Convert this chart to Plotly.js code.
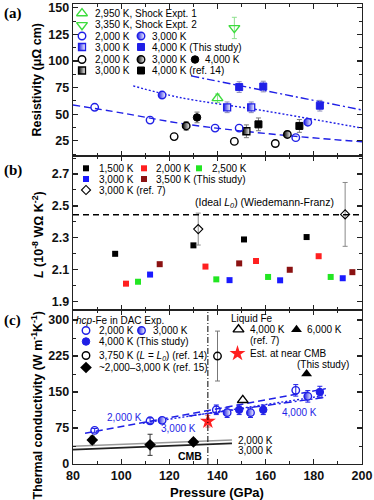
<!DOCTYPE html>
<html><head><meta charset="utf-8">
<script src="https://cdn.plot.ly/plotly-3.0.1.min.js"></script>
<style>html,body{margin:0;padding:0;background:#fff}#chart{width:374px;height:500px}</style>
</head><body><div id="chart"></div>
<script>
// ================= DATA =================
// (a) Resistivity (μΩ cm) vs pressure (GPa)
const shock1P = [140], shock1R = [65], shock1E = [4];
const shock2P = [147], shock2R = [131], shock2E = [10];
const rB2000P = [89, 112, 139, 149, 172.5], rB2000R = [56.5, 44.5, 37, 37, 28];
const rB3000cP = [117, 177.5], rB3000cR = [68, 42.5];
const rB3000sP = [144, 154], rB3000sR = [56.5, 56.5], rB3000sE = [5, 5];
const rB4000sP = [149, 159, 182.5], rB4000sR = [75.5, 76, 58], rB4000sE = [5, 5, 5];
const rK2000P = [122, 147, 164], rK2000R = [29, 24.5, 22.5];
const rK3000cP = [127, 169], rK3000cR = [39, 31], rK3000cE = [4, 3];
const rK4000cP = [131.5], rK4000cR = [47], rK4000cE = [5];
const rK3000sP = [152], rK3000sR = [34], rK3000sE = [6];
const rK4000sP = [157, 174], rK4000sR = [40.5, 39], rK4000sE = [6, 6];
const fitR2000P = [80, 100, 126, 160, 200], fitR2000 = [58.7, 51.3, 41, 31.9, 24.1];
const fitR3000P = [105, 124.4, 160, 200], fitR3000 = [76.6, 65.7, 53, 37];
const fitR4000P = [129, 160, 200], fitR4000 = [86, 72, 54];

// (b) Lorenz number (10^-8 WΩK^-2)
const L1500P = [97.5, 130, 151, 177], L1500 = [2.20, 2.253, 2.29, 2.305];
const L2000P = [102, 135, 156, 182], L2000 = [2.013, 2.12, 2.155, 2.185];
const L2500P = [107, 139.5, 161, 187], L2500 = [2.025, 2.04, 2.055, 2.055];
const L3000P = [112, 145, 166, 192], L3000 = [2.07, 2.035, 2.034, 2.047];
const L3500P = [116, 149, 170, 196], L3500 = [2.135, 2.14, 2.10, 2.085];
const Lref7P = [132, 193], Lref7 = [2.355, 2.447], Lref7E = [0.1, 0.2];
const L0 = 2.445;

// (c) Thermal conductivity (W m^-1 K^-1)
const k2000P = [89, 112, 139.5, 172.5], k2000 = [70, 90, 113, 153.5], k2000E = [4, 6, 10, 12];
const k3000P = [117, 144, 153.7, 177.5], k3000 = [91, 107, 107, 141], k3000E = [6, 10, 10, 12];
const k4000P = [149, 159, 182.5], k4000 = [113, 113, 150], k4000E = [10, 10, 12];
const kRef14P = [140], kRef14 = [225], kRef14E = [52];
const kRef15P = [88, 112, 130], kRef15 = [50, 40, 46], kRef15E = [8, 22, 6];
const kLiq4000P = [150.5], kLiq4000 = [133];
const kLiq6000P = [177], kLiq6000 = [188];
const kCmbP = [136], kCmb = [89], kCmbE = [12];
const cmbPressure = 136;
const fitK2000P = [85, 185], fitK2000 = [64, 157];
const fitK3000P = [109, 185], fitK3000 = [85, 143];
const fitK4000P = [128, 185], fitK4000 = [100, 139];
const ref15Line2000P = [80, 146], ref15Line2000 = [37, 50];
const ref15Line3000P = [80, 146], ref15Line3000 = [30, 43];

// ================= STYLE =================
const F = 'Liberation Sans, Arial, sans-serif';
const BLUE = '#1f1fe6', GREEN = '#3cdc3c', RED = '#ff2020', DRED = '#8b1212', BLK = '#000';
const M = {
  openC: c => ({symbol: 'circle-open', size: 7.5, color: c, line: {width: 1.4, color: c}}),
  halfC: c => ({symbol: 'circle', size: 7.5, color: c, gradient: {type: 'horizontal', color: 'white'}, line: {width: 1.4, color: c}}),
  fillC: c => ({symbol: 'circle', size: 7.5, color: c, line: {width: 1, color: c}}),
  halfS: c => ({symbol: 'square', size: 7, color: c, gradient: {type: 'horizontal', color: 'white'}, line: {width: 1.3, color: c}}),
  fillS: c => ({symbol: 'square', size: 7, color: c, line: {width: 1, color: c}}),
  sq: c => ({symbol: 'square', size: 6, color: c, line: {width: 0}}),
  triUpO: c => ({symbol: 'triangle-up-open', size: 9.5, color: c, line: {width: 1.4, color: c}}),
  triDnO: c => ({symbol: 'triangle-down-open', size: 9.5, color: c, line: {width: 1.4, color: c}}),
  triUp: c => ({symbol: 'triangle-up', size: 9.5, color: c}),
  diaO: c => ({symbol: 'diamond-open', size: 7, color: c, line: {width: 1.1, color: c}}),
  dia: c => ({symbol: 'diamond', size: 9, color: c}),
  star: c => ({symbol: 'star', size: 12, color: c, line: {width: 0}})
};

const traces = [];
const AX = {a: ['x3', 'y3'], b: ['x2', 'y2'], c: ['x', 'y'], k: ['x4', 'y4']};
function pts(x, y, marker, ax, err, errColor) {
  const t = {type: 'scatter', mode: 'markers', x: x, y: y, marker: marker, xaxis: ax[0], yaxis: ax[1], showlegend: false, hoverinfo: 'skip'};
  if (err) t.error_y = {type: 'data', array: err, visible: true, color: errColor || '#777', thickness: 1, width: 2.5};
  traces.push(t);
}
function line(x, y, color, dash, width, ax) {
  traces.push({type: 'scatter', mode: 'lines', x: x, y: y, line: {color: color, dash: dash, width: width, shape: 'spline'}, xaxis: ax[0], yaxis: ax[1], showlegend: false, hoverinfo: 'skip'});
}

// ---- (a) ----
line(fitR2000P, fitR2000, BLUE, '7px,4px', 1.4, AX.a);
line(fitR3000P, fitR3000, BLUE, '2px,2px', 1.4, AX.a);
line(fitR4000P, fitR4000, BLUE, '8px,3px,2px,3px', 1.4, AX.a);
const EB = '#8a8ab8', EK = '#777', EG = '#8ee08e';
pts(shock1P, shock1R, M.triUpO(GREEN), AX.a, shock1E, EG);
pts(shock2P, shock2R, M.triDnO(GREEN), AX.a, shock2E, EG);
pts(rK2000P, rK2000R, M.openC(BLK), AX.a);
pts(rK3000cP, rK3000cR, M.halfC(BLK), AX.a, rK3000cE, EK);
pts(rK4000cP, rK4000cR, M.fillC(BLK), AX.a, rK4000cE, EK);
pts(rK3000sP, rK3000sR, M.halfS(BLK), AX.a, rK3000sE, EK);
pts(rK4000sP, rK4000sR, M.fillS(BLK), AX.a, rK4000sE, EK);
pts(rB2000P, rB2000R, M.openC(BLUE), AX.a);
pts(rB3000cP, rB3000cR, M.halfC(BLUE), AX.a);
pts(rB3000sP, rB3000sR, M.halfS(BLUE), AX.a, rB3000sE, EB);
pts(rB4000sP, rB4000sR, M.fillS(BLUE), AX.a, rB4000sE, EB);

// ---- (b) ----
pts(L1500P, L1500, M.sq(BLK), AX.b);
pts(L2000P, L2000, M.sq(RED), AX.b);
pts(L2500P, L2500, M.sq('#22e622'), AX.b);
pts(L3000P, L3000, M.sq('#1a1aff'), AX.b);
pts(L3500P, L3500, M.sq(DRED), AX.b);
pts(Lref7P, Lref7, M.diaO(BLK), AX.b, Lref7E, '#888');

// ---- (c) ----
line(ref15Line2000P, ref15Line2000, '#999', 'solid', 1.6, AX.c);
line(ref15Line3000P, ref15Line3000, '#222', 'solid', 1.6, AX.c);
line(fitK2000P, fitK2000, BLUE, '7px,4px', 1.4, AX.c);
line(fitK3000P, fitK3000, BLUE, '2px,2px', 1.4, AX.c);
line(fitK4000P, fitK4000, BLUE, '8px,3px,2px,3px', 1.4, AX.c);
pts(kRef15P, kRef15, M.dia(BLK), AX.c, kRef15E, '#333');
pts(kRef14P, kRef14, M.openC(BLK), AX.c, kRef14E, '#777');
pts(kLiq4000P, kLiq4000, M.triUpO(BLK), AX.c);
pts(kLiq6000P, kLiq6000, M.triUp(BLK), AX.c);
pts(k2000P, k2000, M.openC(BLUE), AX.c, k2000E, BLUE);
pts(k3000P, k3000, M.halfC(BLUE), AX.c, k3000E, BLUE);
pts(k4000P, k4000, M.fillC(BLUE), AX.c, k4000E, BLUE);
pts(kCmbP, kCmb, M.star(RED), AX.c, kCmbE, '#ff7070');

// ================= LEGENDS / LABELS (pixel layout, converted to paper) =================
const PL = 73, PR = 362, PT = 4, PB = 464;
const annotations = [];
function txt(px, py, text, o) {
  o = o || {};
  annotations.push(Object.assign({x: (px - PL) / (PR - PL), y: (PB - py) / (PB - PT), xref: 'paper', yref: 'paper',
    text: text, showarrow: false, xanchor: 'left', yanchor: 'middle',
    font: {family: F, size: 10, color: BLK}}, o));
}
function key(x, y, marker, label, tx) {
  pts([x], [y], marker, AX.k);
  if (label) txt(tx, y, label);
}
// (a) legend
const legA = {c1: 82, t1: 92.5, c2: 141, t2: 150, c3: 195, t3: 203, rows: [13.3, 25, 36, 47, 59.5, 70.5]};
const R = legA.rows;
key(legA.c1, R[0], M.triUpO(GREEN), '2,950 K, Shock Expt. 1', legA.t1);
key(legA.c1, R[1], M.triDnO(GREEN), '3,350 K, Shock Expt. 2', legA.t1);
key(legA.c1, R[2], M.openC(BLUE), '2,000 K', legA.t1);
key(legA.c2, R[2], M.halfC(BLUE), '3,000 K', legA.t2);
key(legA.c1, R[3], M.halfS(BLUE), '3,000 K', legA.t1);
key(legA.c2, R[3], M.fillS(BLUE), '4,000 K (This study)', legA.t2);
key(legA.c1, R[4], M.openC(BLK), '2,000 K', legA.t1);
key(legA.c2, R[4], M.halfC(BLK), '3,000 K', legA.t2);
key(legA.c3, R[4], M.fillC(BLK), '4,000 K', legA.t3);
key(legA.c1, R[5], M.halfS(BLK), '3,000 K', legA.t1);
key(legA.c2, R[5], M.fillS(BLK), '4,000 K (ref. 14)', legA.t2);
// (b) legend
const legB = {c1: 86, t1: 97, c2: 144, t2: 154, c3: 199, t3: 210, rows: [168.3, 179, 190]};
key(legB.c1, legB.rows[0], M.sq(BLK), '1,500 K', legB.t1);
key(legB.c2, legB.rows[0], M.sq(RED), '2,000 K', legB.t2);
key(legB.c3, legB.rows[0], M.sq('#22e622'), '2,500 K', legB.t3);
key(legB.c1, legB.rows[1], M.sq('#1a1aff'), '3,000 K', legB.t1);
key(legB.c2, legB.rows[1], M.sq(DRED), '3,500 K (This study)', legB.t2);
key(legB.c1, legB.rows[2], M.diaO(BLK), '3,000 K (ref. 7)', legB.t1);
// (c) legend
const legC = {c1: 86, t1: 96.5, c2: 141.5, t2: 151, rows: [330.5, 341.5, 355.5, 367.5]};
txt(74, 320, '<i>hcp</i>-Fe in DAC Exp.');
key(legC.c1, legC.rows[0], M.openC(BLUE), '2,000 K', legC.t1);
key(legC.c2, legC.rows[0], M.halfC(BLUE), '3,000 K', legC.t2);
key(legC.c1, legC.rows[1], M.fillC(BLUE), '4,000 K (This study)', legC.t1);
key(legC.c1, legC.rows[2], M.openC(BLK), '3,750 K (<i>L</i> = <i>L<sub>0</sub></i>) (ref. 14)', legC.t1);
key(legC.c1, legC.rows[3], M.dia(BLK), '~2,000–3,000 K (ref. 15)', legC.t1);
txt(229, 318, 'Liquid Fe');
key(238.5, 329.5, M.triUpO(BLK), '4,000 K', 248);
key(296.5, 329.5, M.triUp(BLK), '6,000 K', 305);
txt(248, 340, '(ref. 7)');
key(237.5, 353.5, M.star(RED), 'Est. at near CMB', 248);
txt(295, 364.5, '(This study)');

// panel labels and axis titles
const serif = {family: 'Liberation Serif, Times New Roman, serif', size: 15, color: BLK, weight: 700};
txt(12.5, 13, '(a)', {xanchor: 'center', font: serif});
txt(12.5, 170, '(b)', {xanchor: 'center', font: serif});
txt(12.5, 320, '(c)', {xanchor: 'center', font: serif});
const tfont = {family: F, size: 12.5, color: BLK, weight: 700};
txt(36.5, 80, 'Resistivity (μΩ cm)', {xanchor: 'center', textangle: -90, font: tfont});
txt(38, 235, '<i>L</i> (10<sup>-8</sup> WΩ K<sup>-2</sup>)', {xanchor: 'center', textangle: -90, font: tfont});
txt(36.5, 405, 'Thermal conductivity (W m<sup>-1</sup>K<sup>-1</sup>)', {xanchor: 'center', textangle: -90, font: tfont});
txt(217, 492, 'Pressure (GPa)', {xanchor: 'center', font: {family: F, size: 13, color: BLK, weight: 700}});

// in-plot labels (data coords)
function dtxt(x, y, xr, yr, text, o) {
  annotations.push(Object.assign({x: x, y: y, xref: xr, yref: yr, text: text, showarrow: false,
    xanchor: 'center', yanchor: 'middle', font: {family: F, size: 10, color: BLK}}, o || {}));
}
dtxt(159.7, 2.52, 'x2', 'y2', '(Ideal <i>L<sub>0</sub></i>) (Wiedemann-Franz)', {font: {family: F, size: 10.5, color: BLK}});
dtxt(101.2, 97.6, 'x', 'y', '2,000 K', {font: {family: F, size: 10, color: BLUE}});
dtxt(123.8, 73, 'x', 'y', '3,000 K', {font: {family: F, size: 10, color: BLUE}});
dtxt(174.2, 108, 'x', 'y', '4,000 K', {font: {family: F, size: 10, color: BLUE}});
dtxt(147.6, 49.4, 'x', 'y', '2,000 K', {xanchor: 'left'});
dtxt(147.6, 28, 'x', 'y', '3,000 K', {xanchor: 'left'});
dtxt(134.6, 17.4, 'x', 'y', 'CMB', {xanchor: 'right', font: {family: F, size: 10.5, color: BLK, weight: 700}});

// ================= LAYOUT =================
const tickF = {family: F, size: 12.5, color: '#111', weight: 700};
const base = {showline: true, linecolor: '#222', linewidth: 1.3, mirror: 'ticks', ticks: 'inside', ticklen: 5,
  tickwidth: 1.2, tickcolor: '#222', showgrid: false, zeroline: false, tickfont: tickF, fixedrange: true,
  ticklabeloverflow: 'allow'};
const minor = d => ({dtick: d, ticks: 'inside', ticklen: 3, tickwidth: 1, tickcolor: '#222', showgrid: false});
const xr = [80, 200];
const layout = {
  width: 374, height: 500,
  margin: {l: PL, r: 374 - PR, t: PT, b: 500 - PB},
  paper_bgcolor: 'white', plot_bgcolor: 'rgba(0,0,0,0)',
  showlegend: false,
  xaxis: Object.assign({}, base, {domain: [0, 1], anchor: 'y', range: xr, tick0: 80, dtick: 20, minor: minor(10)}),
  xaxis2: Object.assign({}, base, {domain: [0, 1], anchor: 'y2', range: xr, tick0: 80, dtick: 20, minor: minor(10), showticklabels: false}),
  xaxis3: Object.assign({}, base, {domain: [0, 1], anchor: 'y3', range: xr, tick0: 80, dtick: 20, minor: minor(10), showticklabels: false}),
  yaxis: Object.assign({}, base, {domain: [0, 0.3348], anchor: 'x', range: [0, 321], tick0: 0, dtick: 75, minor: minor(37.5)}),
  yaxis2: Object.assign({}, base, {domain: [0.3348, 0.6696], anchor: 'x2', range: [1.848, 2.813], tick0: 1.9, dtick: 0.2, minor: minor(0.1)}),
  yaxis3: Object.assign({}, base, {domain: [0.6696, 1], anchor: 'x3', range: [10.8, 153.5], tick0: 0, dtick: 25, minor: minor(12.5)}),
  xaxis4: {domain: [0, 1], anchor: 'y4', range: [PL, PR], visible: false, fixedrange: true},
  yaxis4: {domain: [0, 1], anchor: 'x4', range: [PB, PT], visible: false, fixedrange: true},
  shapes: [
    {type: 'line', xref: 'x2 domain', yref: 'y2', x0: 0, x1: 1, y0: L0, y1: L0, line: {color: BLK, width: 1.4, dash: '6px,4px'}},
    {type: 'line', xref: 'x', yref: 'y domain', x0: cmbPressure, x1: cmbPressure, y0: 0, y1: 1, line: {color: BLK, width: 1, dash: '6px,2px,1px,2px'}}
  ],
  annotations: annotations
};
Plotly.newPlot('chart', traces, layout, {staticPlot: true, displayModeBar: false});
</script></body></html>
